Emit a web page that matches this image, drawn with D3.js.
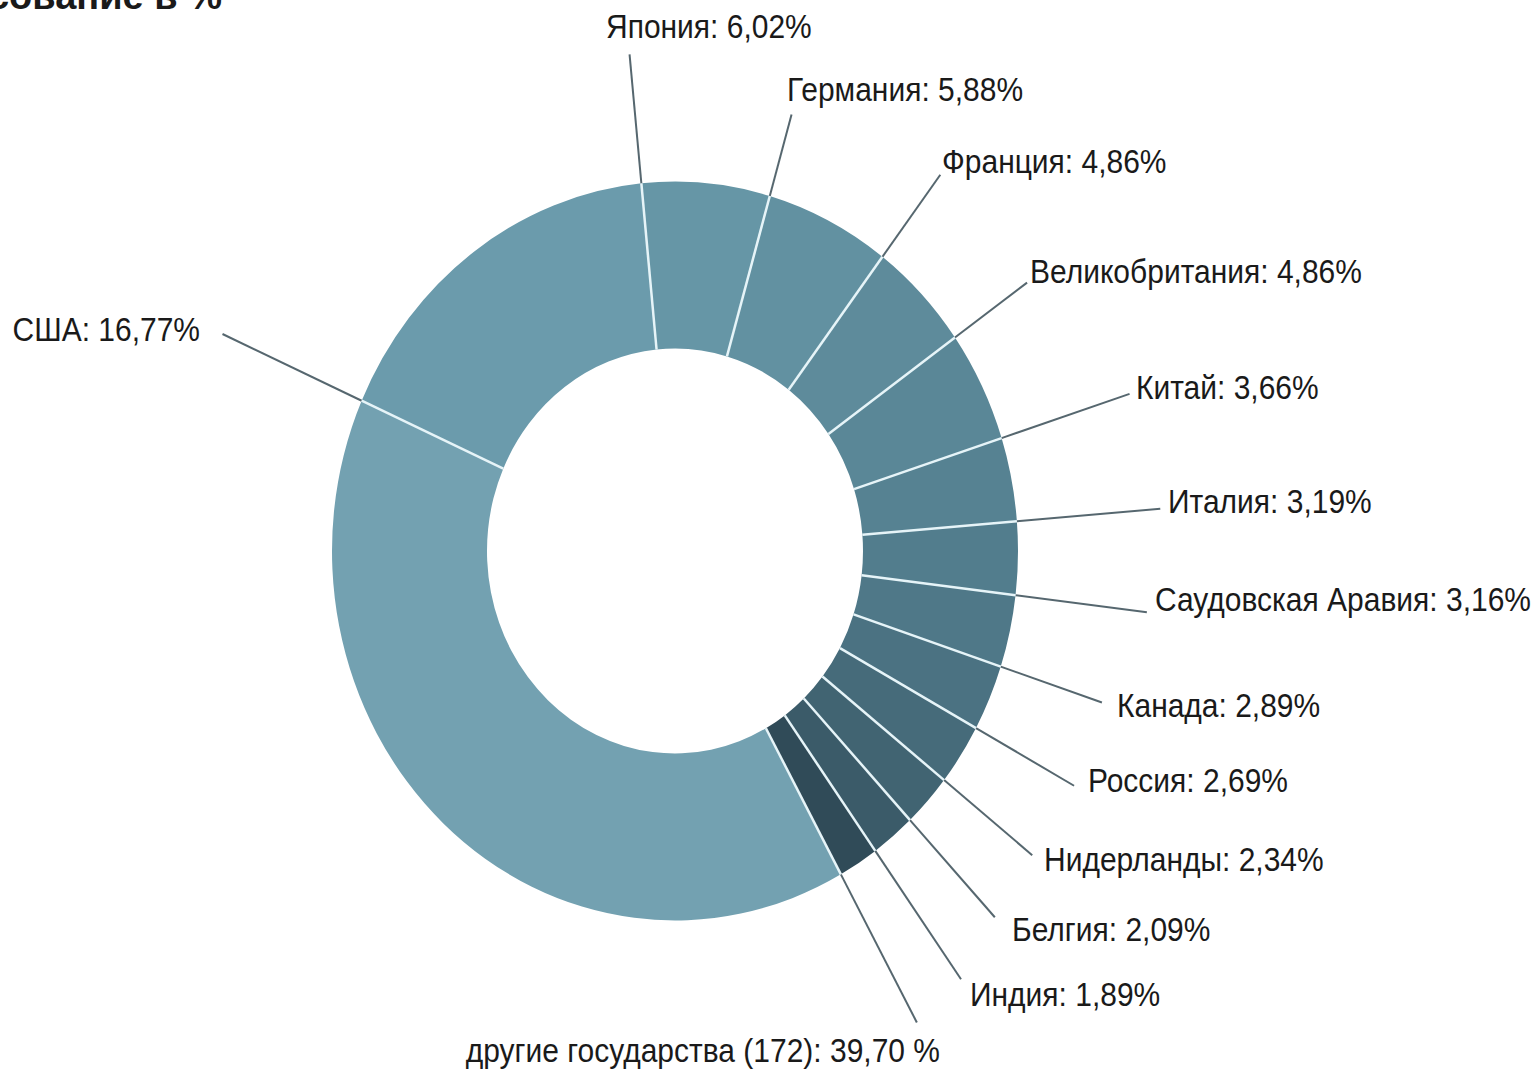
<!DOCTYPE html>
<html>
<head>
<meta charset="utf-8">
<script src="https://cdn.jsdelivr.net/npm/d3@7"></script>
<style>
  body { margin: 0; background: #fff; }
  svg text { font-family: "Liberation Sans", Arial, sans-serif; fill: #1a1a1a; }
</style>
</head>
<body>
<div id="chart"></div>
<script>
// data
var countries = ["США", "Япония", "Германия", "Франция", "Великобритания", "Китай", "Италия",
  "Саудовская Аравия", "Канада", "Россия", "Нидерланды", "Белгия", "Индия", "другие государства (172)"];
var shares = [16.77, 6.02, 5.88, 4.86, 4.86, 3.66, 3.19, 3.16, 2.89, 2.69, 2.34, 2.09, 1.89, 39.70];
var colors = ["#6b9bac", "#6696a6", "#6291a1", "#5e8b9b", "#5a8797", "#568292", "#527d8d", "#4f7888",
  "#4b7282", "#466b7a", "#416472", "#3b5b69", "#304b58", "#73a1b1"];

// label layout: text x, baseline y, anchor, and where the leader line should reach
var labelPos = [
  [200, 341, "end"], [606, 38, "start"], [787, 101, "start"], [942, 173, "start"],
  [1030, 283, "start"], [1136, 399, "start"], [1168, 513, "start"], [1155, 611, "start"],
  [1117, 717, "start"], [1088, 792, "start"], [1044, 871, "start"], [1012, 941, "start"],
  [970, 1006, "start"], [940, 1062, "end"]
];
var leaderTo = [[220, 340], [624, 55], [790, 114], [937, 172], [1026, 281], [1129, 392], [1160, 505],
  [1148, 602], [1103, 699], [1079, 776], [1036, 850], [1000, 912], [964, 977], [921, 1020]];

var width = 1540, height = 1071;
var cx = 675, cy = 551, k = 1.077;   // the ring is slightly taller than wide
var rOut = 343, rIn = 188;
var start = -66 * Math.PI / 180;

var svg = d3.select("#chart").append("svg")
    .attr("width", width)
    .attr("height", height);

svg.append("rect").attr("width", width).attr("height", height).attr("fill", "#fff");

// title, cut off at the top edge like in the source picture
svg.append("text")
    .attr("x", 222)
    .attr("y", 9)
    .attr("text-anchor", "end")
    .style("font-size", "38px")
    .style("font-weight", "bold")
    .text("Голосование в %");

var pie = d3.pie()
    .sort(null)
    .value(function(d) { return d; })
    .startAngle(start)
    .endAngle(start + 2 * Math.PI);

var arcs = pie(shares);

var arc = d3.arc().innerRadius(rIn).outerRadius(rOut);

var ring = svg.append("g")
    .attr("transform", "translate(" + cx + "," + cy + ") scale(1," + k + ")");

ring.selectAll("path.slice")
    .data(arcs)
    .enter().append("path")
    .attr("class", "slice")
    .attr("fill", function(d, i) { return colors[i]; })
    .attr("d", arc);

// point at radius r along angle a, in ring coordinates
function pt(a, r) { return [r * Math.sin(a), -r * Math.cos(a)]; }

// leader lines run along the start edge of each slice out to the label
arcs.forEach(function(d, i) {
  var a = d.startAngle;
  var tx = leaderTo[i][0] - cx, ty = (leaderTo[i][1] - cy) / k;
  var rEnd = tx * Math.sin(a) - ty * Math.cos(a);
  var p0 = pt(a, rIn), p1 = pt(a, rOut), p2 = pt(a, rEnd);

  ring.append("line")
      .attr("x1", p1[0]).attr("y1", p1[1])
      .attr("x2", p2[0]).attr("y2", p2[1])
      .attr("stroke", "#56676f")
      .attr("stroke-width", 2)
      .attr("vector-effect", "non-scaling-stroke");

  ring.append("line")
      .attr("x1", p0[0]).attr("y1", p0[1])
      .attr("x2", p1[0]).attr("y2", p1[1])
      .attr("stroke", "#e6f4f8")
      .attr("stroke-width", 2.5)
      .attr("vector-effect", "non-scaling-stroke");
});

var fmt = function(v) { return d3.format(".2f")(v).replace(".", ","); };

svg.selectAll("text.lbl")
    .data(arcs)
    .enter().append("text")
    .attr("class", "lbl")
    .attr("transform", function(d, i) {
      return "translate(" + labelPos[i][0] + "," + labelPos[i][1] + ") scale(1," + k + ")";
    })
    .attr("text-anchor", function(d, i) { return labelPos[i][2]; })
    .style("font-size", "30px")
    .text(function(d, i) {
      return countries[i] + ": " + fmt(shares[i]) + (i === countries.length - 1 ? " %" : "%");
    });
</script>
</body>
</html>
